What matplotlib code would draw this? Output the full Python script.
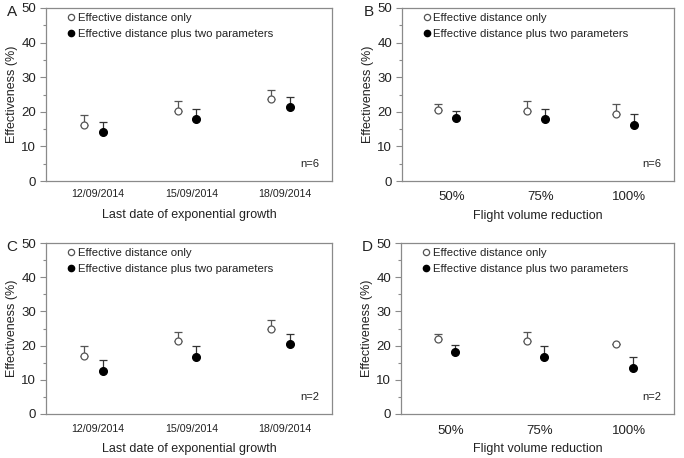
import numpy as np
import matplotlib
matplotlib.use("Agg")
import matplotlib.pyplot as plt
from matplotlib.ticker import MultipleLocator
from matplotlib.lines import Line2D

plt.rcParams["font.family"] = ["Liberation Sans", "DejaVu Sans"]

# Data
date_labels = ["12/09/2014", "15/09/2014", "18/09/2014"]
reduction_labels = ["50%", "75%", "100%"]

a_open = [16.2, 20.1, 23.8]
a_open_err = [2.9, 2.9, 2.6]
a_filled = [14.1, 17.8, 21.4]
a_filled_err = [2.9, 2.9, 2.9]

b_open = [20.6, 20.1, 19.4]
b_open_err = [1.7, 2.9, 2.9]
b_filled = [18.2, 17.8, 16.2]
b_filled_err = [1.9, 2.9, 3.1]

c_open = [17.1, 21.2, 24.9]
c_open_err = [2.9, 2.7, 2.7]
c_filled = [12.6, 16.7, 20.6]
c_filled_err = [3.1, 3.1, 2.9]

d_open = [21.8, 21.2, 20.6]
d_open_err = [1.7, 2.7, 0.0]
d_filled = [18.2, 16.7, 13.5]
d_filled_err = [2.1, 3.1, 3.1]

# letter, categories, series, x label, n text, axes box (px), tick pad, label pad
panels = [
    ("A", date_labels, a_open, a_open_err, a_filled, a_filled_err,
     "Last date of exponential growth", "n=6", [46, 8, 332, 181], 6, 7),
    ("B", reduction_labels, b_open, b_open_err, b_filled, b_filled_err,
     "Flight volume reduction", "n=6", [402, 8, 674, 181], 7, 5),
    ("C", date_labels, c_open, c_open_err, c_filled, c_filled_err,
     "Last date of exponential growth", "n=2", [46, 243, 332, 414], 7, 7),
    ("D", reduction_labels, d_open, d_open_err, d_filled, d_filled_err,
     "Flight volume reduction", "n=2", [401, 243, 674, 414], 8, 4),
]

W, H = 684, 458
fig = plt.figure(figsize=(W / 100, H / 100), dpi=100)

text_c = "#222222"
spine_c = "#8a8a8a"

legend_handles = [
    Line2D([], [], ls="none", marker="o", ms=4.5, mfc="white",
           mec="#555555", mew=0.9, label="Effective distance only"),
    Line2D([], [], ls="none", marker="o", ms=4.5, mfc="black",
           mec="black", label="Effective distance plus two parameters"),
]

for letter, cats, op, op_e, fi, fi_e, xlab, ntext, box, tpad, lpad in panels:
    x0, y0, x1, y1 = box
    ax = fig.add_axes([x0 / W, 1 - y1 / H, (x1 - x0) / W, (y1 - y0) / H])
    x = np.arange(1, len(cats) + 1)
    zeros = np.zeros(len(cats))
    ax.errorbar(x - 0.1, op, yerr=[zeros, op_e], fmt="o", ms=5,
                mfc="white", mec="#555555", mew=0.9, ecolor="#555555",
                elinewidth=0.9, capsize=3, capthick=0.9)
    ax.errorbar(x + 0.1, fi, yerr=[zeros, fi_e], fmt="o", ms=5.5,
                mfc="black", mec="black", ecolor="#333333",
                elinewidth=0.9, capsize=3, capthick=0.9)
    ax.set_xlim(0.49, 3.555)
    ax.set_ylim(0, 50)
    ax.set_xticks(x + 0.05)
    is_date = cats is date_labels
    ax.set_xticklabels(cats, fontsize=7.7 if is_date else 9.5,
                       color=text_c)
    ax.yaxis.set_major_locator(MultipleLocator(10))
    ax.yaxis.set_minor_locator(MultipleLocator(5))
    ax.tick_params(axis="x", length=0, pad=tpad)
    ax.tick_params(axis="y", which="major", length=4, width=0.8,
                   color=spine_c, labelsize=9.5, labelcolor=text_c, pad=3)
    ax.tick_params(axis="y", which="minor", length=2.5, width=0.8,
                   color=spine_c)
    for s in ax.spines.values():
        s.set_color(spine_c)
        s.set_linewidth(0.9)
    ax.set_xlabel(xlab, fontsize=9, color=text_c, labelpad=lpad)
    ax.set_ylabel("Effectiveness (%)", fontsize=9, color=text_c,
                  labelpad=2.5)
    ax.text(0.955, 0.1, ntext, transform=ax.transAxes, ha="right",
            va="center", fontsize=8, color=text_c)
    ax.text(-0.138 if letter in "AC" else -0.142, 0.975, letter,
            transform=ax.transAxes, ha="left", va="center",
            fontsize=11, color=text_c)
    leg = ax.legend(handles=legend_handles, loc="upper left",
                    frameon=False, fontsize=8.2, handletextpad=0.2,
                    handlelength=0.8, borderaxespad=0.05, labelspacing=0.5,
                    bbox_to_anchor=(0.055, 1.0))
    for t in leg.get_texts():
        t.set_color(text_c)

fig.savefig("out.png", dpi=100)
